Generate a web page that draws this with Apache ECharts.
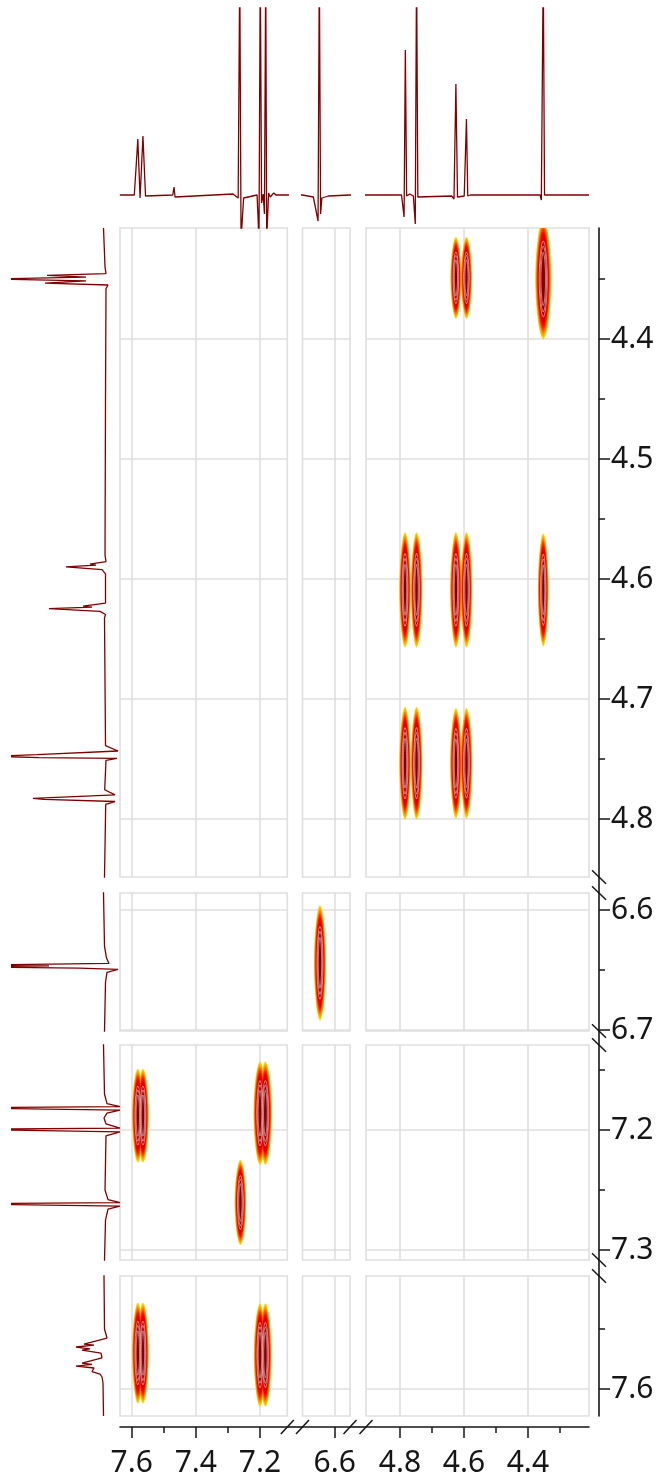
<!DOCTYPE html>
<html>
<head>
<meta charset="utf-8">
<script src="https://cdn.jsdelivr.net/npm/echarts@6.0.0/dist/echarts.min.js"></script>
<style>
  html, body { margin: 0; padding: 0; background: #fff; }
  #chart { width: 663px; height: 1478px; }
</style>
</head>
<body>
<div id="chart"></div>
<script>
// ---- chemical shift windows (ppm) ----
// horizontal (F2) windows, left to right
const xWindows = [[7.1147, 7.6366], [6.5515, 6.7025], [4.209, 4.906]];
const xMajorTicks = [[7.6, 7.4, 7.2], [6.6], [4.8, 4.6, 4.4]];
const xMinorTicks = [[7.5, 7.3], [], [4.7, 4.5, 4.3]];
// vertical (F1) windows, top to bottom
const yWindows = [[4.3075, 4.8483], [6.5858, 6.7008], [7.1292, 7.3083], [7.5058, 7.6225]];
const yMajorTicks = [[4.4, 4.5, 4.6, 4.7, 4.8], [6.6, 6.7], [7.2, 7.3], [7.6]];
const yMinorTicks = [[4.35, 4.45, 4.55, 4.65, 4.75], [6.65], [7.15, 7.25], [7.55]];

// ---- 1D projection above the map: [ppm, intensity] ----
const topTrace = [
  [7.637, 0], [7.592, 0], [7.587, 25], [7.584, 25], [7.581, 56], [7.574, -3], [7.565, 59], [7.557, -1],
  [7.472, 0], [7.468, 8], [7.465, -2], [7.460, 0], [7.284, 1], [7.268, -3], [7.263, 230], [7.259, -45],
  [7.251, -3], [7.209, 0], [7.203, -45], [7.199, 230], [7.195, -8], [7.190, 1], [7.186, -19],
  [7.182, 230], [7.179, -45], [7.173, 2], [7.168, -2], [7.157, 2], [7.150, 0], [7.114, 0],
  [6.703, 0], [6.668, -2], [6.653, -26], [6.649, 230], [6.645, -19], [6.641, -3], [6.620, -1], [6.553, 0],
  [4.906, 0], [4.795, 0], [4.790, -2], [4.787, -22], [4.783, 145], [4.779, -1], [4.769, 1], [4.758, -1],
  [4.752, -29], [4.748, 230], [4.744, -2], [4.738, 0], [4.638, -1], [4.631, -4], [4.625, 111], [4.620, -2],
  [4.614, 0], [4.599, -1], [4.595, -3], [4.592, 76], [4.588, -1], [4.580, 0], [4.362, 0], [4.358, -5],
  [4.352, 230], [4.348, 0], [4.209, 0]
];

// ---- 1D projection left of the map: [ppm, intensity] ----
const leftTrace = [
  [4.3075, 0.5], [4.340, -1], [4.3455, -2], [4.347, 57], [4.3485, 18], [4.350, 110], [4.3515, 18],
  [4.3535, 59], [4.355, -4], [4.358, -2], [4.450, -1.5], [4.580, -1], [4.5855, -2], [4.5875, 14],
  [4.5885, 8], [4.5898, 38], [4.5922, 2], [4.5957, -1.5], [4.620, -1.5], [4.6225, 21], [4.6235, 12],
  [4.6247, 55], [4.627, 4], [4.6296, -1.5], [4.6325, -0.5], [4.7389, -1.5], [4.7433, -14], [4.7463, 67],
  [4.7477, 110], [4.7488, 65], [4.7494, -13], [4.7512, -2], [4.7756, -0.7], [4.7798, -11], [4.7827, 71],
  [4.7837, 60], [4.7854, -11], [4.7878, -1.7], [4.8483, -0.5],
  [6.5858, 0.5], [6.630, -0.5], [6.640, -2.5], [6.6445, -5], [6.6458, 130], [6.6466, 55], [6.6474, 130],
  [6.6484, 25], [6.6494, -14], [6.652, -3], [6.660, -1.5], [6.7008, -0.5],
  [7.1292, 0.5], [7.170, -0.5], [7.178, -3], [7.1805, -16], [7.1815, 150], [7.1825, 150], [7.1835, -16],
  [7.186, -3], [7.190, 0], [7.195, -2], [7.1985, -16], [7.1995, 150], [7.2005, 150], [7.2015, -16],
  [7.205, -2], [7.250, -1], [7.258, -4], [7.2605, -16], [7.2615, 150], [7.2625, 150], [7.2635, -16],
  [7.266, -4], [7.275, -1.5], [7.3083, -0.5],
  [7.5058, 0], [7.550, -0.5], [7.5575, -3], [7.5625, 20], [7.5635, 10], [7.565, 28], [7.5665, 14],
  [7.5675, 22], [7.570, 3], [7.574, 2], [7.5785, 22], [7.5795, 12], [7.581, 28], [7.5825, 10],
  [7.5855, 12], [7.5875, 4], [7.590, 2], [7.595, 1], [7.6225, 0.5]
];

// ---- cross peaks: [F2 ppm, F1 ppm, F2 half-width, F1 half-height] ----
const crossPeaks = [
  [4.625, 4.349, 0.017, 0.034], [4.592, 4.349, 0.017, 0.034], [4.352, 4.350, 0.025, 0.050],
  [4.784, 4.609, 0.018, 0.048], [4.748, 4.609, 0.018, 0.048], [4.625, 4.609, 0.018, 0.048],
  [4.592, 4.609, 0.018, 0.048], [4.352, 4.609, 0.0167, 0.047],
  [4.784, 4.7535, 0.018, 0.047], [4.748, 4.7535, 0.018, 0.047], [4.625, 4.7535, 0.018, 0.046],
  [4.592, 4.7535, 0.018, 0.046],
  [6.647, 6.644, 0.019, 0.048],
  [7.581, 7.188, 0.018, 0.039], [7.565, 7.188, 0.018, 0.039],
  [7.200, 7.186, 0.020, 0.043], [7.183, 7.186, 0.020, 0.043],
  [7.261, 7.2604, 0.018, 0.0355],
  [7.581, 7.570, 0.018, 0.042], [7.565, 7.570, 0.018, 0.042],
  [7.200, 7.5717, 0.019, 0.043], [7.183, 7.5717, 0.019, 0.043]
];

// ---- page layout (px) ----
const colPx = [[120, 287.3], [302.5, 350], [366, 589]];
const rowPx = [[228, 877], [893, 1031], [1045, 1260], [1276, 1416]];
const topPx = [8, 228];
const leftPx = [12, 120];
const xAxisOffset = 11;
const yAxisOffset = 10;

const INK = '#161616';
const GRID = '#dfdfdf';
const TRACE = '#800000';
const FONT = 'Noto Sans';

// contour levels (outermost first)
const LEVELS = 14;
const RHO0 = 24;
const STEP = Math.pow(RHO0, 1 / 14.5);
const levelColors = [
  '#ffd200', '#ffaa00', '#ff7a00', '#ff4a00', '#ff2000', '#f20800', '#e60000',
  '#d80000', '#cc0000', '#be0000', '#b00000', '#a20000', '#960000', '#8a0000'
];
const WHITE_LINE_LEVELS = [9, 11, 13];

function renderContour(params, api) {
  const cx = api.value(0), cy = api.value(1), hw = api.value(2), hh = api.value(3), lev = api.value(4);
  const c = api.coord([cx, cy]);
  const ex = api.coord([cx + hw, cy]);
  const ey = api.coord([cx, cy + hh]);
  const ax = Math.abs(ex[0] - c[0]), ay = Math.abs(ey[1] - c[1]);
  const rho = RHO0 / Math.pow(STEP, lev);
  const r = Math.sqrt(Math.max(rho - 1, 0) / (RHO0 - 1));
  const rx = Math.pow(r, 0.6), ry = Math.pow(r, 0.4);
  const p = 1.8;
  const pts = [];
  const N = 64;
  for (let k = 0; k < N; k++) {
    const th = k / N * Math.PI * 2;
    const co = Math.cos(th), si = Math.sin(th);
    const u = Math.sign(co) * Math.pow(Math.abs(co), 2 / p);
    const v = Math.sign(si) * Math.pow(Math.abs(si), 2 / p);
    pts.push([c[0] + ax * rx * u, c[1] + ay * ry * v]);
  }
  const style = { fill: levelColors[lev], stroke: null };
  if (WHITE_LINE_LEVELS.indexOf(lev) >= 0) {
    style.stroke = 'rgba(255,255,255,0.85)';
    style.lineWidth = 0.6;
  }
  return { type: 'polygon', shape: { points: pts }, style: style };
}

const grids = [], xAxes = [], yAxes = [], series = [], graphics = [];

function addGrid(l, r, t, b, extra) {
  grids.push(Object.assign({
    left: l, top: t, width: r - l, height: b - t,
    containLabel: false, outerBoundsMode: 'none'
  }, extra || {}));
  return grids.length - 1;
}
const hidden = { show: false };
const fmt = v => v.toFixed(1);

// ---- 2D panels ----
for (let ri = 0; ri < rowPx.length; ri++) {
  for (let ci = 0; ci < colPx.length; ci++) {
    const g = addGrid(colPx[ci][0], colPx[ci][1], rowPx[ri][0], rowPx[ri][1], {
      show: true, borderColor: GRID, borderWidth: 1.6, backgroundColor: 'transparent'
    });
    const isBottom = ri === rowPx.length - 1;
    const isRight = ci === colPx.length - 1;
    const xw = xWindows[ci], yw = yWindows[ri];

    xAxes.push({
      type: 'value', gridIndex: g, inverse: true, min: xw[0], max: xw[1],
      splitNumber: 3, minInterval: 0.2, maxInterval: 0.2,
      position: 'bottom', offset: isBottom ? xAxisOffset : 0,
      axisLine: { show: isBottom, onZero: false, lineStyle: { color: INK, width: 1.6 } },
      axisTick: { show: isBottom, customValues: xMajorTicks[ci], length: 11, lineStyle: { color: INK, width: 1.5 } },
      axisLabel: { show: isBottom, customValues: xMajorTicks[ci], formatter: fmt, margin: 21,
        fontSize: 30, color: INK, fontFamily: FONT },
      splitLine: { show: true, lineStyle: { color: GRID, width: 1.6 } }
    });
    const xi = xAxes.length - 1;
    yAxes.push({
      type: 'value', gridIndex: g, inverse: true, min: yw[0], max: yw[1],
      splitNumber: 5, minInterval: 0.1, maxInterval: 0.1,
      position: 'right', offset: isRight ? yAxisOffset : 0,
      axisLine: { show: isRight, onZero: false, lineStyle: { color: INK, width: 1.6 } },
      axisTick: { show: isRight, customValues: yMajorTicks[ri], length: 11, lineStyle: { color: INK, width: 1.5 } },
      axisLabel: { show: isRight, customValues: yMajorTicks[ri], formatter: fmt, margin: 12,
        fontSize: 30, color: INK, fontFamily: FONT },
      splitLine: { show: true, lineStyle: { color: GRID, width: 1.6 } }
    });
    const yi = yAxes.length - 1;

    // minor ticks
    if (isBottom && xMinorTicks[ci].length) {
      xAxes.push({
        type: 'value', gridIndex: g, inverse: true, min: xw[0], max: xw[1],
        position: 'bottom', offset: xAxisOffset,
        axisLine: hidden, axisLabel: hidden, splitLine: hidden,
        axisTick: { show: true, customValues: xMinorTicks[ci], length: 6, lineStyle: { color: INK, width: 1.5 } }
      });
    }
    if (isRight && yMinorTicks[ri].length) {
      yAxes.push({
        type: 'value', gridIndex: g, inverse: true, min: yw[0], max: yw[1],
        position: 'right', offset: yAxisOffset,
        axisLine: hidden, axisLabel: hidden, splitLine: hidden,
        axisTick: { show: true, customValues: yMinorTicks[ri], length: 6, lineStyle: { color: INK, width: 1.5 } }
      });
    }

    // cross peaks in this panel, drawn level by level
    const inPanel = crossPeaks.filter(([x, y, hw, hh]) =>
      x + hw > xw[0] && x - hw < xw[1] && y + hh > yw[0] && y - hh < yw[1]);
    const items = [];
    for (let lev = 0; lev < LEVELS; lev++) {
      inPanel.forEach(([x, y, hw, hh]) => items.push([x, y, hw, hh, lev]));
    }
    if (items.length) {
      series.push({
        type: 'custom', xAxisIndex: xi, yAxisIndex: yi, clip: true, silent: true,
        renderItem: renderContour, data: items, z: 3
      });
    }
  }
}

// ---- top projections ----
for (let ci = 0; ci < colPx.length; ci++) {
  const g = addGrid(colPx[ci][0], colPx[ci][1], topPx[0], topPx[1]);
  xAxes.push({ type: 'value', gridIndex: g, inverse: true, min: xWindows[ci][0], max: xWindows[ci][1], show: false });
  yAxes.push({ type: 'value', gridIndex: g, min: -33, max: 187, show: false });
  series.push({
    type: 'line', xAxisIndex: xAxes.length - 1, yAxisIndex: yAxes.length - 1,
    data: topTrace, showSymbol: false, clip: true, silent: true, z: 4,
    lineStyle: { color: TRACE, width: 1.3 }
  });
}

// ---- left projections ----
for (let ri = 0; ri < rowPx.length; ri++) {
  const g = addGrid(leftPx[0], leftPx[1], rowPx[ri][0], rowPx[ri][1]);
  xAxes.push({ type: 'value', gridIndex: g, inverse: true, min: -16, max: 92, show: false });
  yAxes.push({ type: 'value', gridIndex: g, inverse: true, min: yWindows[ri][0], max: yWindows[ri][1], show: false });
  series.push({
    type: 'line', xAxisIndex: xAxes.length - 1, yAxisIndex: yAxes.length - 1,
    data: leftTrace.map(([ppm, h]) => [h, ppm]), showSymbol: false, clip: true, silent: true, z: 4,
    lineStyle: { color: TRACE, width: 1.3 }
  });
}

// ---- axis lines across the panel gaps, with break marks ----
const axisY = rowPx[rowPx.length - 1][1] + xAxisOffset;
const axisX = colPx[colPx.length - 1][1] + yAxisOffset;
const seg = (x1, y1, x2, y2, w) => ({
  type: 'line', silent: true, z: 10,
  shape: { x1, y1, x2, y2 }, style: { stroke: INK, lineWidth: w || 1.6 }
});
for (let ci = 0; ci < colPx.length - 1; ci++) {
  const a = colPx[ci][1], b = colPx[ci + 1][0];
  graphics.push(seg(a, axisY, b, axisY));
  [a, b].forEach(x => graphics.push(seg(x - 6.5, axisY + 7, x + 6.5, axisY - 7, 1.5)));
}
for (let ri = 0; ri < rowPx.length - 1; ri++) {
  const a = rowPx[ri][1], b = rowPx[ri + 1][0];
  graphics.push(seg(axisX, a, axisX, b));
  [a, b].forEach(y => graphics.push(seg(axisX - 7, y - 6.7, axisX + 7, y + 6.7, 1.5)));
}

const chart = echarts.init(document.getElementById('chart'));
chart.setOption({
  animation: false,
  backgroundColor: '#ffffff',
  textStyle: { fontFamily: FONT },
  grid: grids,
  xAxis: xAxes,
  yAxis: yAxes,
  series: series,
  graphic: graphics
});
</script>
</body>
</html>
